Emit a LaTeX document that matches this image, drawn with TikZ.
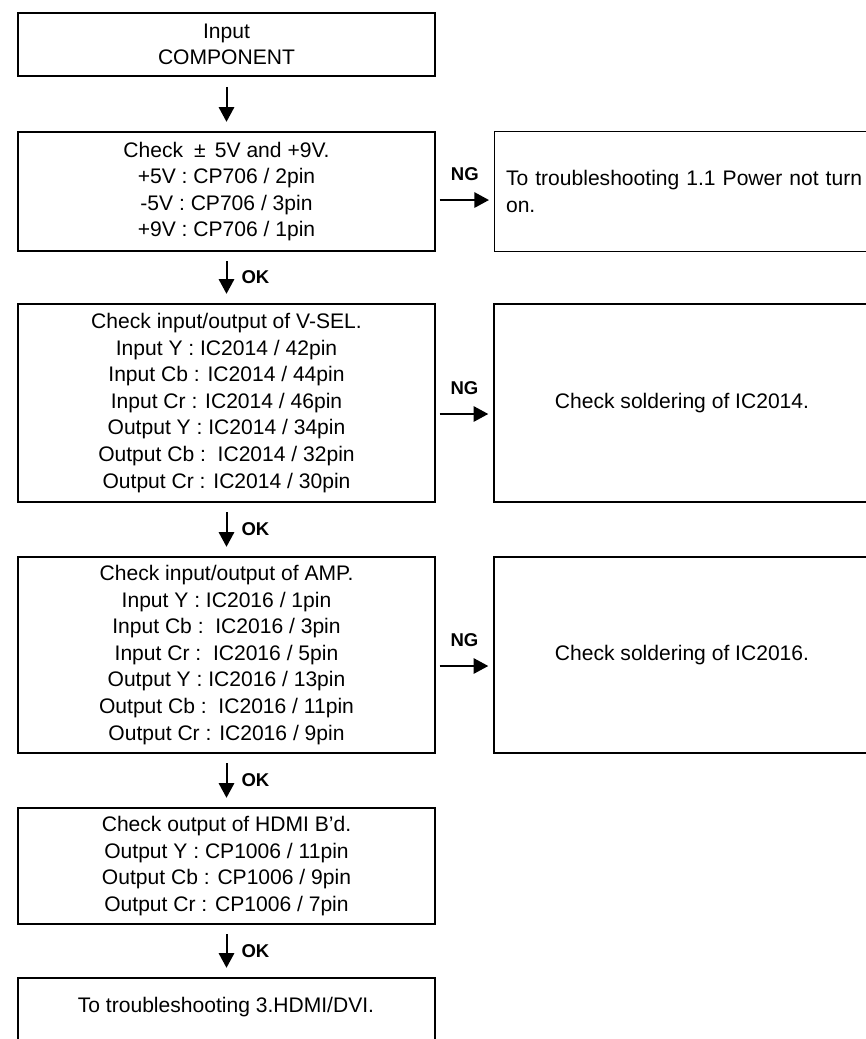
\documentclass[tikz,border=0pt]{standalone}
\usepackage{fontspec}
\setmainfont{Liberation Sans}
\usetikzlibrary{arrows.meta}
\begin{document}
\begin{tikzpicture}[x=0.75pt,y=-0.75pt,
  box/.style={draw, line width=1.1pt, minimum width=312.75pt, inner sep=0pt, align=center, font=\fontsize{15.8}{19.9}\selectfont},
  rbox/.style={draw, line width=1.1pt, minimum width=282pt, inner sep=0pt, align=center, font=\fontsize{15.8}{19.9}\selectfont},
  txt/.style={inner sep=0pt, align=center, font=\fontsize{15.8}{19.9}\selectfont},
  lab/.style={inner sep=0pt, font=\fontsize{13.9}{16}\selectfont\bfseries},
  varr/.style={line width=1.5pt, -{Triangle[length=11pt,width=11.5pt]}, shorten <=7.1pt, shorten >=7.1pt},
  harr/.style={line width=1.5pt, -{Triangle[length=11pt,width=11.5pt]}, shorten <=3pt, shorten >=3.75pt}]
\useasboundingbox (0,0) rectangle (866,1039);
\clip (0,0) rectangle (866,1039);

\node[box, line width=2pt, minimum height=47.25pt] (b1) at (226.5,44.5) {Input\\COMPONENT};

\node[box, minimum height=89.25pt] (b2) at (226.5,191.5)
  {Check \kern3.75pt±\kern2.6pt{} 5V and +9V.\\+5V : CP706 / 2pin\\-5V : CP706 / 3pin\\+9V : CP706 / 1pin};
\node[rbox, anchor=west, minimum height=90pt, text width=300pt, inner xsep=8.5pt, align=left] (r1) at (494,191.5)
  {To troubleshooting 1.1 Power not turn\\on.};

\node[box, minimum height=148.5pt] (b3) at (226.5,403)
  {Check input/output of V-SEL.\\Input Y : IC2014 / 42pin\\Input Cb : IC2014 / 44pin\\Input Cr : IC2014 / 46pin\\Output Y : IC2014 / 34pin\\Output Cb :\ \ IC2014 / 32pin\\Output Cr : IC2014 / 30pin};
\node[rbox, minimum height=148.5pt] (r2) at (682,403) {Check soldering of IC2014.};

\node[box, minimum height=147pt] (b4) at (226.5,655)
  {Check input/output of AMP.\\Input Y : IC2016 / 1pin\\Input Cb :\ \ IC2016 / 3pin\\Input Cr :\ \ IC2016 / 5pin\\Output Y : IC2016 / 13pin\\Output Cb :\ \ IC2016 / 11pin\\Output Cr : IC2016 / 9pin};
\node[rbox, minimum height=147pt] (r3) at (682,655) {Check soldering of IC2016.};

\node[box, minimum height=87pt] (b5) at (226.5,866)
  {Check output of HDMI B’d.\\Output Y : CP1006 / 11pin\\Output Cb : CP1006 / 9pin\\Output Cr : CP1006 / 7pin};

\node[box, minimum height=87pt] (b6) at (226.5,1036) {};
\node[txt] (b6t) at (226,1007) {To troubleshooting 3.HDMI/DVI.};

\draw[varr] (b1.south) -- (b2.north);
\draw[varr] (b2.south) -- node[lab, anchor=west, xshift=10.5pt] {OK} (b3.north);
\draw[varr] (b3.south) -- node[lab, anchor=west, xshift=10.5pt] {OK} (b4.north);
\draw[varr] (b4.south) -- node[lab, anchor=west, xshift=10.5pt] {OK} (b5.north);
\draw[varr] (b5.south) -- node[lab, anchor=west, xshift=10.5pt] {OK} (b6.north);

\draw[harr] ([yshift=-6.4pt]b2.east) -- node[lab, above=13.5pt] {NG} ([yshift=-6.4pt]b2.east -| r1.west);
\draw[harr] ([yshift=-8.25pt]b3.east) -- node[lab, above=13.5pt] {NG} ([yshift=-8.25pt]r2.west);
\draw[harr] ([yshift=-8.25pt]b4.east) -- node[lab, above=13.5pt] {NG} ([yshift=-8.25pt]r3.west);
\end{tikzpicture}
\end{document}
